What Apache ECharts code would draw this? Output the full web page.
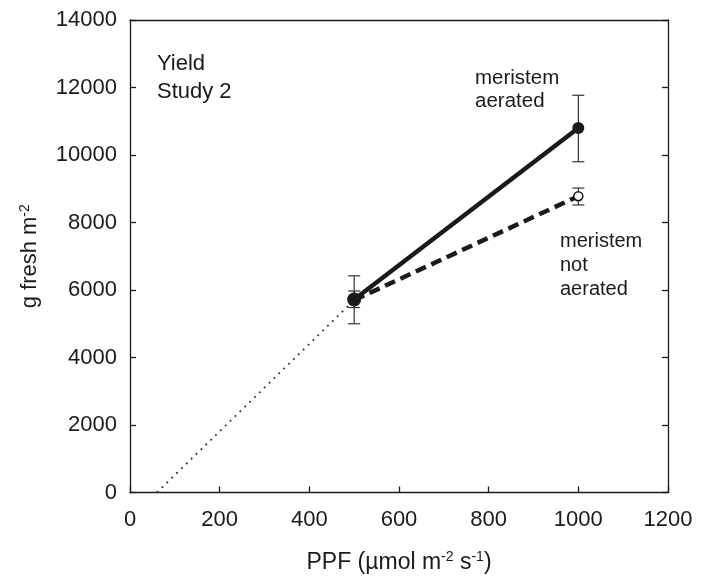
<!DOCTYPE html>
<html>
<head>
<meta charset="utf-8">
<script src="https://cdn.jsdelivr.net/npm/echarts@6/dist/echarts.min.js"></script>
<style>
html,body{margin:0;padding:0;background:#fff;}
#chart{width:710px;height:579px;}
</style>
</head>
<body>
<div id="chart"></div>
<script>
// ---- data ----
const xTicks = [0, 200, 400, 600, 800, 1000, 1200];
const yTicks = [0, 2000, 4000, 6000, 8000, 10000, 12000, 14000];

const ppf = [500, 1000];
const aeratedMean = [5720, 10800];
const aeratedLow = [5000, 9800];
const aeratedHigh = [6420, 11770];

const notAeratedMean = [5700, 8780];
const notAeratedLow = [5480, 8520];
const notAeratedHigh = [5970, 9020];

const extrapX = [60, 500];
const extrapY = [0, 5700];

const labelYield = ['Yield', 'Study 2'];
const labelAerated = ['meristem', 'aerated'];
const labelNotAerated = ['meristem', 'not', 'aerated'];

// ---- build ----
const font = 'Liberation Sans, Arial, Helvetica, sans-serif';
const ink = '#1a1a1a';

function pairs(xs, ys) { return xs.map((x, i) => [x, ys[i]]); }
function errData(xs, lo, hi) { return xs.map((x, i) => [x, lo[i], hi[i]]); }

function errRender(params, api) {
  const x = api.value(0);
  const lo = api.coord([x, api.value(1)]);
  const hi = api.coord([x, api.value(2)]);
  const w = 6;
  const style = { stroke: '#333', lineWidth: 1.2 };
  return {
    type: 'group',
    children: [
      { type: 'line', shape: { x1: lo[0], y1: lo[1], x2: hi[0], y2: hi[1] }, style },
      { type: 'line', shape: { x1: lo[0] - w, y1: lo[1], x2: lo[0] + w, y2: lo[1] }, style },
      { type: 'line', shape: { x1: hi[0] - w, y1: hi[1], x2: hi[0] + w, y2: hi[1] }, style }
    ]
  };
}

const axisLineStyle = { color: ink, width: 1.3 };
const plain = v => String(v);
const supRich = { sup: { fontFamily: font, fontSize: 14, verticalAlign: 'top', padding: [0, 0, 10, 0], color: ink } };

const chart = echarts.init(document.getElementById('chart'));
chart.setOption({
  backgroundColor: '#fff',
  animation: false,
  grid: { left: 130, right: 42, top: 20, bottom: 84, containLabel: false },
  xAxis: [{
    type: 'value', position: 'bottom', min: xTicks[0], max: xTicks[xTicks.length - 1], interval: 200,
    axisLine: { show: true, onZero: false, lineStyle: axisLineStyle },
    axisTick: { show: true, inside: true, length: 6, lineStyle: axisLineStyle },
    splitLine: { show: false },
    axisLabel: { fontFamily: font, fontSize: 22, color: ink, margin: 16, formatter: plain },
    name: 'PPF (µmol m{sup|-2} s{sup|-1})',
    nameLocation: 'middle', nameGap: 58,
    nameTextStyle: { fontFamily: font, fontSize: 23, color: ink, rich: supRich }
  }, {
    type: 'value', position: 'top', min: xTicks[0], max: xTicks[xTicks.length - 1], interval: 200,
    axisLine: { show: true, onZero: false, lineStyle: axisLineStyle },
    axisTick: { show: false }, axisLabel: { show: false }, splitLine: { show: false }
  }],
  yAxis: [{
    type: 'value', position: 'left', min: yTicks[0], max: yTicks[yTicks.length - 1], interval: 2000,
    axisLine: { show: true, onZero: false, lineStyle: axisLineStyle },
    axisTick: { show: true, inside: true, length: 6, lineStyle: axisLineStyle },
    splitLine: { show: false },
    axisLabel: { fontFamily: font, fontSize: 22, color: ink, margin: 13, formatter: plain },
    name: 'g fresh m{sup|-2}',
    nameLocation: 'middle', nameGap: 88, nameRotate: 90,
    nameTextStyle: { fontFamily: font, fontSize: 22, color: ink, rich: supRich }
  }, {
    type: 'value', position: 'right', min: yTicks[0], max: yTicks[yTicks.length - 1], interval: 2000,
    axisLine: { show: true, onZero: false, lineStyle: axisLineStyle },
    axisTick: { show: true, inside: true, length: 6, lineStyle: axisLineStyle },
    axisLabel: { show: false }, splitLine: { show: false }
  }],
  series: [
    {
      name: 'extrapolation', type: 'line', data: pairs(extrapX, extrapY),
      symbol: 'none', lineStyle: { color: '#333', width: 1.8, type: [1.8, 5] }, z: 1
    },
    {
      name: 'notAeratedErr', type: 'custom', renderItem: errRender,
      data: errData(ppf, notAeratedLow, notAeratedHigh), z: 2
    },
    {
      name: 'aeratedErr', type: 'custom', renderItem: errRender,
      data: errData(ppf, aeratedLow, aeratedHigh), z: 2
    },
    {
      name: 'meristem not aerated', type: 'line', data: pairs(ppf, notAeratedMean),
      symbol: 'circle', symbolSize: 9,
      itemStyle: { color: '#fff', borderColor: ink, borderWidth: 1.5 },
      lineStyle: { color: ink, width: 4.5, type: [11, 6] }, z: 3
    },
    {
      name: 'meristem aerated', type: 'line', data: pairs(ppf, aeratedMean),
      symbol: 'circle', symbolSize: (v, p) => (p.dataIndex === 0 ? 14 : 12),
      itemStyle: { color: ink },
      lineStyle: { color: ink, width: 4.5 }, z: 4
    }
  ],
  graphic: [
    { type: 'text', left: 157, top: 50, style: { text: labelYield.join('\n'), font: '22px ' + font, fill: ink, lineHeight: 28 } },
    { type: 'text', left: 475, top: 67, style: { text: labelAerated.join('\n'), font: '20.5px ' + font, fill: ink, lineHeight: 23 } },
    { type: 'text', left: 560, top: 229, style: { text: labelNotAerated.join('\n'), font: '20px ' + font, fill: ink, lineHeight: 24 } }
  ]
});
</script>
</body>
</html>
